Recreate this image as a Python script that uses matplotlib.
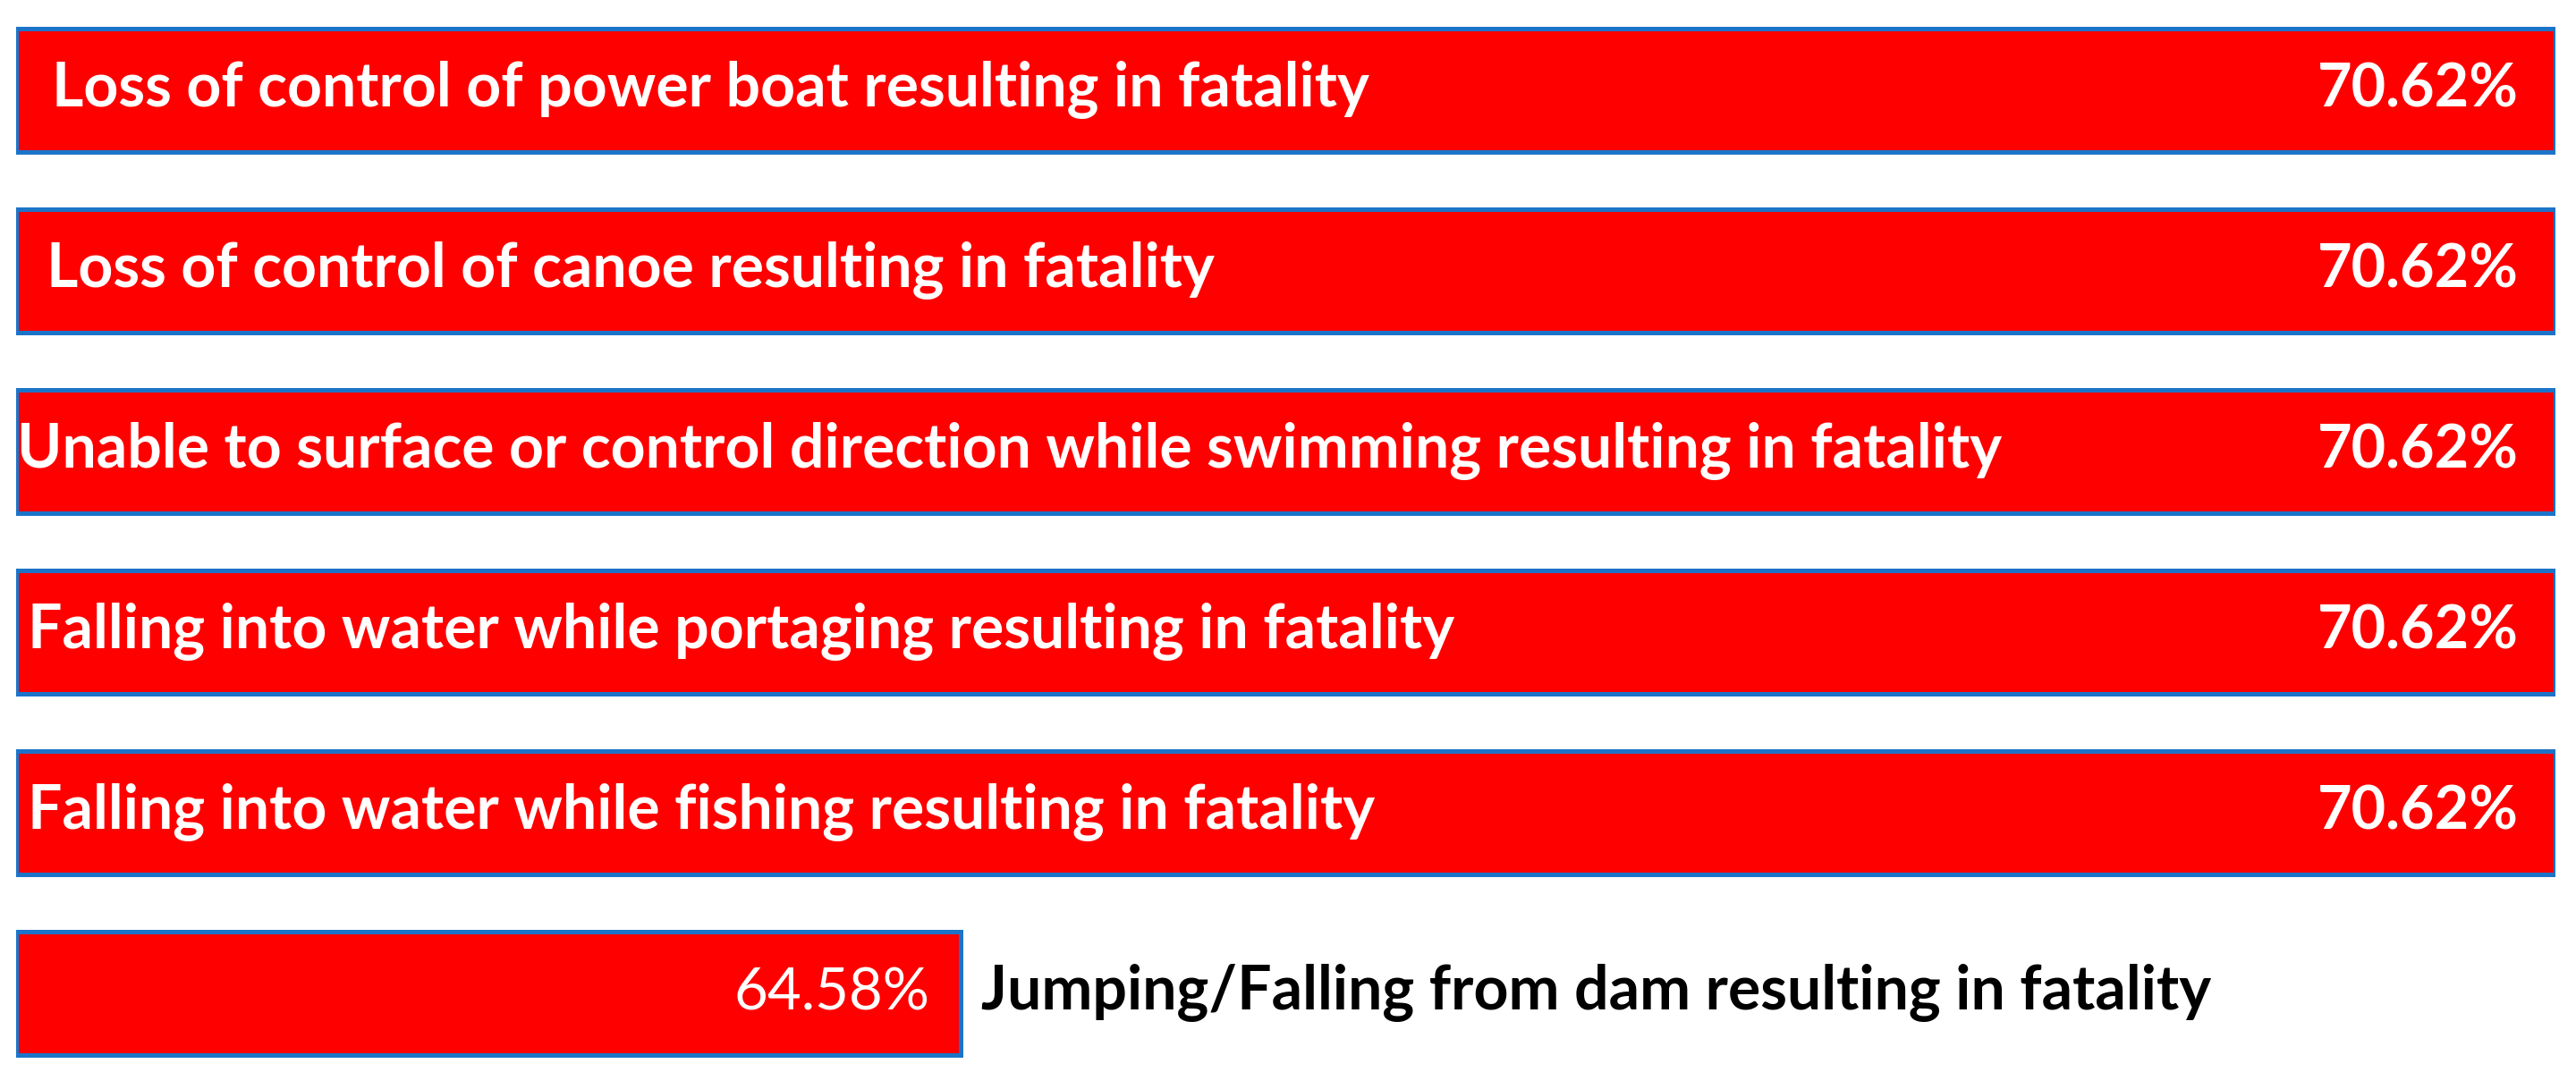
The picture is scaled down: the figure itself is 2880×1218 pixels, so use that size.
import matplotlib.pyplot as plt

categories = [
    "Loss of control of power boat resulting in fatality",
    "Loss of control of canoe resulting in fatality",
    "Unable to surface or control direction while swimming resulting in fatality",
    "Falling into water while portaging resulting in fatality",
    "Falling into water while fishing resulting in fatality",
    "Jumping/Falling from dam resulting in fatality",
]
values = [70.62, 70.62, 70.62, 70.62, 70.62, 64.58]
x_min = 61.0

# styling: label inset from bar start (data units); None = label outside bar
label_inset = [0.135, 0.115, 0.005, 0.045, 0.045, None]

bar_red = "#FF0000"
edge_blue = "#1C74C9"
font = "Lato"

fig = plt.figure(figsize=(28.8, 12.18), dpi=100)
ax = fig.add_axes([0.00625, 0.005, 0.98575, 0.995])

y = list(range(len(values)))
ax.barh(y, [v - x_min for v in values], left=x_min, height=0.68,
        color=bar_red, edgecolor=edge_blue, linewidth=3.6)

ax.set_xlim(x_min, max(values))
ax.set_ylim(len(values) - 0.5, -0.5)
ax.axis("off")

for i, (cat, v) in enumerate(zip(categories, values)):
    if label_inset[i] is not None:
        ax.text(x_min + label_inset[i], i, cat, ha="left", va="center",
                color="white", fontsize=49, fontweight="bold", family=font)
        ax.text(v - 0.14, i, f"{v:.2f}%", ha="right", va="center",
                color="white", fontsize=48, fontweight="bold", family=font)
    else:
        ax.text(v - 0.12, i, f"{v:.2f}%", ha="right", va="center",
                color="white", fontsize=47, family=font)
        ax.text(v + 0.075, i, cat, ha="left", va="center",
                color="black", fontsize=49, fontweight="bold", family=font)

fig.savefig("out.png", dpi=100)
